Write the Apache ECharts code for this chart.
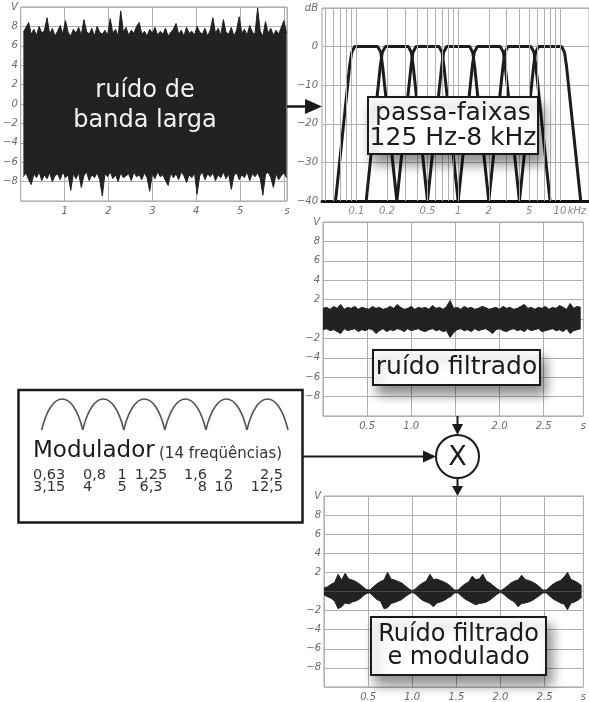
<!DOCTYPE html>
<html>
<head>
<meta charset="utf-8">
<script src="https://cdn.jsdelivr.net/npm/echarts@6/dist/echarts.min.js"></script>
<style>
html, body { margin: 0; padding: 0; background: #fff; }
#main { width: 589px; height: 702px; }
</style>
</head>
<body>
<div id="main"></div>
<script>
// ruído de banda larga: envoltória superior / inferior (V), uma amostra a cada 0.06 s
var wideStart = 0.06, wideStep = 0.06;
var wideTop = [7.4, 7.9, 8.4, 7.2, 7.7, 7.1, 8.0, 7.3, 7.6, 8.9, 7.2, 7.8, 7.0, 7.5, 8.1, 7.2, 8.6, 7.4, 7.0, 7.7,
  7.3, 7.9, 7.1, 8.7, 7.5, 7.2, 7.8, 7.0, 8.0, 7.4, 7.2, 7.6, 7.1, 8.8, 7.3, 7.7, 7.0, 9.6, 7.4, 7.9,
  7.1, 7.6, 7.3, 8.0, 8.4, 7.2, 7.5, 7.0, 7.7, 7.3, 7.9, 7.1, 7.5, 7.2, 7.8, 7.0, 7.4, 7.7, 8.3, 7.2,
  7.6, 7.0, 7.9, 7.3, 7.5, 7.1, 8.0, 7.4, 7.2, 7.8, 7.0, 7.6, 8.9, 7.3, 7.8, 7.1, 8.7, 7.4, 7.2, 7.9,
  7.0, 7.6, 9.0, 7.3, 7.7, 7.1, 8.1, 7.4, 7.2, 9.9, 7.5, 7.0, 8.5, 7.3, 7.8, 7.1, 7.6, 7.2, 7.9, 8.6, 7.3];
var wideBot = [-7.5, -7.1, -7.8, -8.3, -7.2, -7.6, -7.0, -7.9, -7.3, -7.7, -7.1, -8.0, -7.4, -7.2, -7.8, -7.0, -7.6, -7.3, -8.9, -7.2,
  -7.7, -7.1, -8.6, -7.4, -7.0, -7.9, -7.3, -7.6, -7.1, -7.8, -9.5, -7.2, -7.5, -7.0, -7.7, -7.3, -8.0, -7.1, -7.6, -7.4,
  -7.2, -7.9, -7.0, -7.5, -7.3, -7.8, -7.1, -7.6, -9.0, -7.2, -7.7, -7.0, -7.5, -7.3, -7.9, -8.4, -7.1, -7.6, -7.2, -7.8,
  -7.0, -7.4, -8.1, -7.3, -7.6, -7.1, -9.3, -7.4, -7.0, -7.8, -7.2, -7.5, -7.1, -7.9, -7.3, -7.6, -7.0, -7.7, -7.2, -8.8,
  -7.4, -7.1, -7.8, -7.3, -7.6, -7.0, -7.9, -7.2, -7.5, -7.1, -7.7, -9.4, -7.3, -7.0, -7.6, -8.6, -7.2, -7.8, -7.4, -7.1, -7.6];

// ruído filtrado e ruído filtrado modulado: uma amostra a cada 0.04 s desde 0
var sigStep = 0.04;
var filtTop = [1.1, 1.2, 1.0, 1.3, 1.1, 1.5, 1.0, 1.2, 1.1, 1.3, 1.0, 1.2, 1.1, 1.0, 1.3, 1.1, 1.2, 1.0, 1.1, 1.3,
  1.1, 1.5, 1.2, 1.0, 1.1, 1.3, 1.0, 1.2, 1.1, 1.2, 1.0, 1.4, 1.1, 1.2, 1.0, 1.3, 1.9, 1.1, 1.2, 1.0,
  1.3, 1.1, 1.2, 1.0, 1.1, 1.3, 1.2, 1.0, 1.1, 1.2, 1.0, 1.3, 1.1, 1.2, 1.0, 1.1, 1.3, 1.5, 1.1, 1.2,
  1.0, 1.2, 1.1, 1.3, 1.0, 1.2, 1.1, 1.4, 1.2, 1.0, 1.6, 1.1, 1.3, 1.2];
var filtBot = [-1.1, -1.0, -1.2, -1.1, -1.3, -1.5, -1.0, -1.2, -1.1, -1.0, -1.3, -1.1, -1.2, -1.0, -1.1, -1.5, -1.2, -1.0, -1.3, -1.1,
  -1.2, -1.0, -1.1, -1.3, -1.0, -1.2, -1.1, -1.0, -1.2, -1.3, -1.1, -1.0, -1.2, -1.1, -1.3, -1.2, -1.9, -1.4, -1.1, -1.0,
  -1.2, -1.1, -1.3, -1.0, -1.2, -1.1, -1.0, -1.2, -1.5, -1.1, -1.0, -1.2, -1.3, -1.1, -1.0, -1.2, -1.1, -1.3, -1.0, -1.2,
  -1.1, -1.0, -1.3, -1.2, -1.1, -1.0, -1.2, -1.1, -1.3, -1.0, -1.5, -1.2, -1.1, -1.0];
var modTop = [0.35, 0.5, 0.75, 0.95, 1.8, 1.2, 1.9, 1.3, 1.2, 1.05, 0.8, 0.5, 0.2, 0.15, 0.5, 0.8, 1.05, 1.2, 2.0, 1.3,
  1.2, 1.05, 0.9, 0.6, 0.3, 0.08, 0.3, 0.65, 0.9, 1.1, 1.8, 1.25, 1.3, 1.15, 1.0, 0.8, 0.5, 0.15, 0.15, 0.5,
  0.8, 1.0, 1.6, 1.25, 1.3, 1.8, 1.1, 0.9, 0.6, 0.3, 0.08, 0.3, 0.6, 0.9, 1.1, 1.2, 1.7, 1.25, 1.15, 1.0,
  0.8, 0.5, 0.15, 0.15, 0.5, 0.8, 1.0, 1.15, 1.5, 2.0, 1.25, 1.1, 0.9, 0.6];
var modBot = [-0.35, -0.55, -0.7, -1.0, -1.8, -1.6, -1.2, -1.3, -1.1, -1.0, -0.8, -0.5, -0.2, -0.15, -0.5, -0.85, -1.0, -1.8, -1.7, -1.25,
  -1.15, -1.0, -0.85, -0.55, -0.3, -0.08, -0.3, -0.65, -0.95, -1.1, -1.25, -1.6, -1.2, -1.1, -0.95, -0.7, -0.5, -0.15, -0.15, -0.5,
  -0.8, -1.0, -1.2, -1.4, -1.25, -1.2, -1.1, -0.9, -0.6, -0.3, -0.08, -0.3, -0.65, -0.9, -1.1, -1.6, -1.25, -1.2, -1.1, -0.95,
  -0.7, -0.45, -0.15, -0.15, -0.5, -0.8, -1.0, -1.2, -1.3, -1.9, -1.2, -1.1, -0.9, -0.6];

// banco de filtros passa-faixas (frequências em kHz, ganho em dB)
var bandNames = ['125 Hz', '250 Hz', '500 Hz', '1 kHz', '2 kHz', '4 kHz', '8 kHz'];
var bandFreqs = [
  [0.0625, 0.086, 0.090, 0.096, 0.162, 0.174, 0.181, 0.25],
  [0.125, 0.172, 0.180, 0.193, 0.325, 0.347, 0.362, 0.5],
  [0.25, 0.345, 0.36, 0.385, 0.65, 0.695, 0.725, 1.0],
  [0.5, 0.69, 0.72, 0.77, 1.3, 1.39, 1.45, 2.0],
  [1.0, 1.38, 1.44, 1.54, 2.6, 2.78, 2.9, 4.0],
  [2.0, 2.76, 2.88, 3.08, 5.2, 5.56, 5.8, 8.0],
  [4.0, 5.52, 5.76, 6.16, 10.4, 11.1, 11.6, 16.0]
];
var bandGain = [-40, -5, -1.5, 0, 0, -1.5, -5, -40];
var freqLabels = [0.1, 0.2, 0.5, 1, 2, 5, 10];
var logGridFreqs = [0.05, 0.06, 0.07, 0.08, 0.09, 0.1, 0.2, 0.3, 0.4, 0.5, 0.6, 0.7, 0.8, 0.9,
  1, 2, 3, 4, 5, 6, 7, 8, 9, 10];

// modulador: 14 frequências (Hz)
var modFreqs = [0.63, 0.8, 1, 1.25, 1.6, 2, 2.5, 3.15, 4, 5, 6.3, 8, 10, 12.5];

var chart = echarts.init(document.getElementById('main'));

function samples(start, step, vals) {
  return vals.map(function (v, i) { return [+(start + i * step).toFixed(3), v]; });
}
var labelStyle = { color: '#6a6a6a', fontStyle: 'italic', fontSize: 10, fontFamily: 'DejaVu Sans' };
var splitGray = { show: true, lineStyle: { color: '#b0b0b0', width: 1 } };
function minus(v) { return v < 0 ? '\u2212' + (-v) : String(v); }

function timeAxis(grid, max, interval, fmt) {
  return {
    type: 'value', gridIndex: grid, min: 0, max: max, interval: interval,
    axisLine: { show: false }, axisTick: { show: false }, splitLine: splitGray,
    axisLabel: Object.assign({ margin: 5, formatter: fmt, showMaxLabel: true }, labelStyle)
  };
}
function voltAxis(grid, showZero) {
  return {
    type: 'value', gridIndex: grid, min: -10, max: 10, interval: 2,
    axisLine: { show: false }, axisTick: { show: false }, splitLine: splitGray,
    axisLabel: Object.assign({ margin: 3, formatter: function (v) {
      if (v === -10) return '';
      if (v === 10) return 'V';
      if (v === 0 && !showZero) return '';
      return minus(v);
    } }, labelStyle)
  };
}
function envelope(x, y, data) {
  return {
    type: 'line', xAxisIndex: x, yAxisIndex: y, data: data, symbol: 'none', silent: true,
    lineStyle: { color: '#222', width: 1 }, areaStyle: { color: '#222', opacity: 1 }, z: 3
  };
}

var series = [
  envelope(0, 0, samples(wideStart, wideStep, wideTop)),
  envelope(0, 0, samples(wideStart, wideStep, wideBot)),
  envelope(2, 2, samples(0, sigStep, filtTop)),
  envelope(2, 2, samples(0, sigStep, filtBot)),
  envelope(3, 3, samples(0, sigStep, modTop)),
  envelope(3, 3, samples(0, sigStep, modBot))
];
bandFreqs.forEach(function (fs, k) {
  series.push({
    name: bandNames[k], type: 'line', xAxisIndex: 1, yAxisIndex: 1, symbol: 'none', silent: true, z: 4,
    lineStyle: { color: '#1c1c1c', width: 3 },
    data: fs.map(function (f, i) { return [f, bandGain[i]]; })
  });
});
// rótulos de frequência + grade logarítmica
series.push({
  type: 'scatter', xAxisIndex: 1, yAxisIndex: 1, symbolSize: 1, silent: true, z: 1,
  itemStyle: { color: 'rgba(0,0,0,0)' },
  label: Object.assign({ show: true, position: 'bottom', distance: 5 }, labelStyle),
  data: freqLabels.map(function (f) { return { value: [f, -40], label: { formatter: String(f) } }; })
    .concat([{ value: [14.7, -40], label: { formatter: 'kHz' } }]),
  markLine: {
    silent: true, symbol: 'none', animation: false,
    label: { show: false },
    lineStyle: { color: '#b0b0b0', width: 1, type: 'solid' },
    data: logGridFreqs.map(function (f) { return { xAxis: f }; })
  }
});

var ink = '#1a1a1a';
var boxShadow = { shadowColor: 'rgba(0,0,0,0.45)', shadowBlur: 12, shadowOffsetX: 5, shadowOffsetY: 9 };
function box(x, y, w, h) {
  return { type: 'rect', z: 100, shape: { x: x, y: y, width: w, height: h },
    style: Object.assign({ fill: '#fff', stroke: ink, lineWidth: 2 }, boxShadow) };
}
function label(text, x, y, size, lh, extra) {
  return { type: 'text', z: 101, x: x, y: y,
    style: Object.assign({ text: text, fill: ink, font: size + 'px "DejaVu Sans"', lineHeight: lh,
      align: 'center', verticalAlign: 'middle' }, extra || {}) };
}
function line(x1, y1, x2, y2, w) {
  return { type: 'line', z: 100, shape: { x1: x1, y1: y1, x2: x2, y2: y2 }, style: { stroke: ink, lineWidth: w } };
}
function head(pts) {
  return { type: 'polygon', z: 100, shape: { points: pts }, style: { fill: ink } };
}

var graphics = [
  label('ruído de\nbanda larga', 145, 106, 24, 30, { fill: '#f2f2f2' }),
  line(287, 106.5, 308, 106.5, 2.5), head([[305, 99], [322, 106.5], [305, 114]]),
  box(368, 97, 170, 57), label('passa-faixas\n125 Hz-8 kHz', 453, 125.5, 25, 25),
  box(373, 350, 167, 35), label('ruído filtrado', 456.5, 367.5, 25, 26),
  box(371, 617, 175, 58), label('Ruído filtrado\ne modulado', 458.5, 646, 24, 23),
  line(457.5, 416, 457.5, 427, 2), head([[452, 424], [463, 424], [457.5, 435]]),
  line(457.5, 478, 457.5, 488, 2), head([[452, 486], [463, 486], [457.5, 496]]),
  line(303, 456.5, 426, 456.5, 2), head([[423, 450.5], [436, 456.5], [423, 462.5]]),
  { type: 'circle', z: 100, shape: { cx: 457.5, cy: 456.5, r: 21.5 }, style: { fill: '#fff', stroke: ink, lineWidth: 2 } },
  label('X', 457.5, 457.5, 27, 27),
  { type: 'rect', z: 100, shape: { x: 18.5, y: 390, width: 284, height: 132.5 },
    style: { fill: '#fff', stroke: ink, lineWidth: 2.5 } },
  label('Modulador', 33, 451, 23, 23, { align: 'left' }),
  label('(14 freqüências)', 159, 454, 15, 15, { align: 'left', fill: '#333' })
];
// arcos do modulador
var archLeft = 41.7, archWidth = 41.05, archBase = 430, archTop = 399;
for (var a = 0; a < 6; a++) {
  var x0 = archLeft + a * archWidth, x1 = x0 + archWidth, hgt = archBase - archTop;
  graphics.push({ type: 'bezierCurve', z: 101,
    shape: { x1: x0, y1: archBase, x2: x1, y2: archBase,
      cpx1: x0 + 0.24 * archWidth, cpy1: archBase - 1.333 * hgt,
      cpx2: x1 - 0.24 * archWidth, cpy2: archBase - 1.333 * hgt },
    style: { stroke: '#555', lineWidth: 1.6, fill: null } });
}
// tabela das frequências do modulador (2 linhas x 7 colunas)
var colX = [33, 83, 122, 151, 207, 233, 283];
var colAlign = ['left', 'left', 'center', 'center', 'right', 'right', 'right'];
var rowY = [475, 487.5];
modFreqs.forEach(function (f, i) {
  var r = Math.floor(i / 7), c = i % 7;
  graphics.push(label(String(f).replace('.', ','), colX[c], rowY[r], 14.5, 15,
    { align: colAlign[c], fill: '#333' }));
});

var option = {
  animation: false,
  textStyle: { fontFamily: 'DejaVu Sans' },
  grid: [
    { left: 16, top: 7, width: 271, height: 194, show: true, borderColor: '#a0a0a0', borderWidth: 1 },
    { left: 322, top: 8, right: 0, height: 193, show: true, borderColor: '#a0a0a0', borderWidth: 1 },
    { left: 323, top: 222, right: 0, height: 194, show: true, borderColor: '#a0a0a0', borderWidth: 1 },
    { left: 324, top: 496, right: 0, height: 194, show: true, borderColor: '#a0a0a0', borderWidth: 1 }
  ],
  xAxis: [
    timeAxis(0, 6.07, 1, function (v) { return v === 0 ? '' : (v > 6 ? 's' : String(v)); }),
    {
      type: 'log', gridIndex: 1, logBase: 10, min: 0.046, max: 19.3,
      axisLabel: { show: false }, axisTick: { show: false }, splitLine: { show: false },
      axisLine: { show: true, onZero: false, lineStyle: { color: '#111', width: 3 } }
    },
    timeAxis(2, 2.95, 0.5, function (v) { return (v === 0 || v === 1.5) ? '' : (v > 2.9 ? 's' : v.toFixed(1)); }),
    timeAxis(3, 2.94, 0.5, function (v) { return v === 0 ? '' : (v > 2.9 ? 's' : v.toFixed(1)); })
  ],
  yAxis: [
    voltAxis(0, true),
    {
      type: 'value', gridIndex: 1, min: -40, max: 10, interval: 10,
      axisLine: { show: false, onZero: false }, axisTick: { show: false }, splitLine: splitGray,
      axisLabel: Object.assign({ margin: 4, formatter: function (v) { return v === 10 ? 'dB' : minus(v); } }, labelStyle)
    },
    voltAxis(2, false),
    voltAxis(3, false)
  ],
  series: series,
  graphic: graphics
};
chart.setOption(option);
</script>
</body>
</html>
